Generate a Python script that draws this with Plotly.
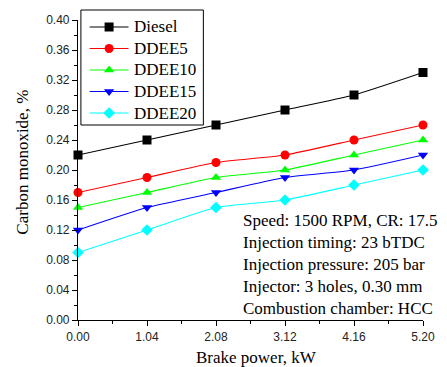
import plotly.graph_objects as go

# Brake power (kW) and CO emissions (%) for each fuel blend
brake_power = [0.00, 1.04, 2.08, 3.12, 4.16, 5.20]
diesel = [0.22, 0.24, 0.26, 0.28, 0.30, 0.33]
ddee5 = [0.17, 0.19, 0.21, 0.22, 0.24, 0.26]
ddee10 = [0.15, 0.17, 0.19, 0.20, 0.22, 0.24]
ddee15 = [0.12, 0.15, 0.17, 0.19, 0.20, 0.22]
ddee20 = [0.09, 0.12, 0.15, 0.16, 0.18, 0.20]

series_names = ["Diesel", "DDEE5", "DDEE10", "DDEE15", "DDEE20"]
series_values = [diesel, ddee5, ddee10, ddee15, ddee20]
colors = ["#000000", "#ff0000", "#00ff00", "#0000ff", "#00ffff"]
symbols = ["square", "circle", "triangle-up", "triangle-down", "diamond"]

x_ticks = ["0.00", "1.04", "2.08", "3.12", "4.16", "5.20"]
y_ticks = [0.00, 0.04, 0.08, 0.12, 0.16, 0.20, 0.24, 0.28, 0.32, 0.36, 0.40]

serif = "Liberation Serif, Times New Roman, serif"
sans = "Liberation Sans, Arial, sans-serif"

W, H = 447, 367
ML, MR, MT, MB = 78, 14, 20, 47
PW, PH = W - ML - MR, H - MT - MB


def px_x(x):
    """Pixel column -> paper x."""
    return (x - ML) / PW


def px_y(y):
    """Pixel row -> paper y."""
    return (H - MB - y) / PH


fig = go.Figure()
for name, vals, col, sym in zip(series_names, series_values, colors, symbols):
    fig.add_trace(go.Scatter(
        x=brake_power, y=vals, name=name, mode="lines+markers",
        line=dict(color=col, width=1.1, shape="spline", smoothing=0.5),
        marker=dict(symbol=sym, size=9, color=col),
        cliponaxis=False, showlegend=False,
    ))

# Boxed legend drawn in paper space: frame, sample lines, symbols, labels
box_l, box_t, box_r, box_b = 81, 10, 207, 125
row_y = [27, 48.5, 70, 91.5, 113]
line_x0, line_x1, text_x = 90, 130, 134

fig.add_shape(type="rect", xref="paper", yref="paper",
              x0=px_x(box_l), x1=px_x(box_r), y0=px_y(box_b), y1=px_y(box_t),
              line=dict(color="black", width=1), fillcolor="rgba(0,0,0,0)", layer="above")
for name, col, sym, ry in zip(series_names, colors, symbols, row_y):
    fig.add_shape(type="line", xref="paper", yref="paper",
                  x0=px_x(line_x0), x1=px_x(line_x1), y0=px_y(ry), y1=px_y(ry),
                  line=dict(color=col, width=1.1), layer="above")
    fig.add_annotation(xref="paper", yref="paper", x=px_x(text_x), y=px_y(ry),
                       xanchor="left", yanchor="middle", showarrow=False, text=name,
                       font=dict(family=serif, size=17, color="black"))
fig.add_trace(go.Scatter(
    x=[px_x((line_x0 + line_x1) / 2)] * len(series_names),
    y=[px_y(ry) for ry in row_y],
    xaxis="x2", yaxis="y2", mode="markers", cliponaxis=False, showlegend=False,
    marker=dict(symbol=symbols, size=9, color=colors), hoverinfo="skip",
))

axis_common = dict(
    showline=True, linecolor="black", linewidth=1.2,
    ticks="outside", ticklen=5, tickwidth=1, tickcolor="black",
    showgrid=False, zeroline=False,
    tickfont=dict(family=sans, size=12, color="#222"),
)
minor_common = dict(ticks="outside", ticklen=3, tickwidth=1, tickcolor="black", showgrid=False)

xaxis = dict(range=[0, 5.2], tickmode="array", tickvals=brake_power, ticktext=x_ticks,
             minor=dict(dtick=0.52, tick0=0, **minor_common), **axis_common)
yaxis = dict(range=[0, 0.40], tickmode="array", tickvals=y_ticks,
             ticktext=[f"{v:.2f}" for v in y_ticks],
             minor=dict(dtick=0.02, tick0=0, **minor_common), **axis_common)

# Axis titles
fig.add_annotation(xref="paper", yref="paper", x=px_x(262), y=px_y(357),
                   xanchor="center", yanchor="middle", showarrow=False,
                   text="Brake power, kW", font=dict(family=serif, size=17, color="black"))
fig.add_annotation(xref="paper", yref="paper", x=px_x(20), y=px_y(162),
                   xanchor="center", yanchor="middle", showarrow=False, textangle=-90,
                   text="Carbon monoxide, %", font=dict(family=serif, size=17, color="black"))

# Operating conditions
fig.add_annotation(
    xref="paper", yref="paper", x=px_x(246), y=px_y(264.5), xanchor="left", yanchor="middle",
    align="left", showarrow=False,
    text=("Speed: 1500 RPM, CR: 17.5<br>Injection timing: 23 bTDC<br>"
          "Injection pressure: 205 bar<br>Injector: 3 holes, 0.30 mm<br>"
          "Combustion chamber: HCC"),
    font=dict(family=serif, size=17, color="black"),
)

fig.update_layout(
    width=W, height=H,
    margin=dict(l=ML, r=MR, t=MT, b=MB),
    plot_bgcolor="white", paper_bgcolor="white",
    showlegend=False,
    xaxis=xaxis,
    yaxis=yaxis,
    xaxis2=dict(overlaying="x", range=[0, 1], visible=False, anchor="y2"),
    yaxis2=dict(overlaying="y", range=[0, 1], visible=False, anchor="x2"),
)

fig.write_html("out.html")
